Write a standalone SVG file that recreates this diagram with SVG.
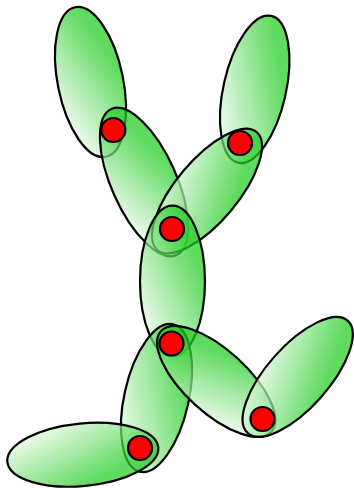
<svg xmlns="http://www.w3.org/2000/svg" width="354" height="488" viewBox="0 0 354 488">
<defs>
<linearGradient id="g" x1="0" y1="1" x2="1" y2="0">
<stop offset="0.06" stop-color="#ffffff"/>
<stop offset="0.75" stop-color="#22cc22"/>
</linearGradient>
</defs>
<style>
.bone{fill:url(#g);fill-opacity:0.72;stroke:#000;stroke-width:2.2}
.joint{fill:#ff0000;stroke:#000;stroke-width:2.2}
</style>
<g id="bones">
<ellipse id="b1" class="bone" rx="32.7" ry="76.3" transform="translate(90.5 82) rotate(-11.6)"/>
<ellipse id="b2" class="bone" rx="32.5" ry="80" transform="translate(144 182) rotate(-24)"/>
<ellipse id="b3" class="bone" rx="31.3" ry="75.2" transform="translate(254.7 89.3) rotate(12.7)"/>
<ellipse id="b4" class="bone" rx="31" ry="77" transform="translate(207 191) rotate(40)"/>
<ellipse id="b5" class="bone" rx="32.5" ry="75.5" transform="translate(172.5 281.2)"/>
<ellipse id="b6" class="bone" rx="32.2" ry="75.5" transform="translate(156.5 398) rotate(12.7)"/>
<ellipse id="b7" class="bone" rx="31.3" ry="75.8" transform="translate(82.8 454.7) rotate(84.5)"/>
<ellipse id="b8" class="bone" rx="31.4" ry="74.6" transform="translate(216.2 381.4) rotate(-47.6)"/>
<ellipse id="b9" class="bone" rx="30.9" ry="75.2" transform="translate(297.7 376.9) rotate(41.6)"/>
</g>
<g id="joints">
<circle id="j1" class="joint" cx="113.3" cy="130" r="12"/>
<circle id="j2" class="joint" cx="240" cy="143" r="12"/>
<circle id="j3" class="joint" cx="172" cy="229" r="12"/>
<circle id="j4" class="joint" cx="171.5" cy="343.5" r="12"/>
<circle id="j5" class="joint" cx="140" cy="448" r="12"/>
<circle id="j6" class="joint" cx="262.5" cy="419" r="12"/>
</g>
</svg>
